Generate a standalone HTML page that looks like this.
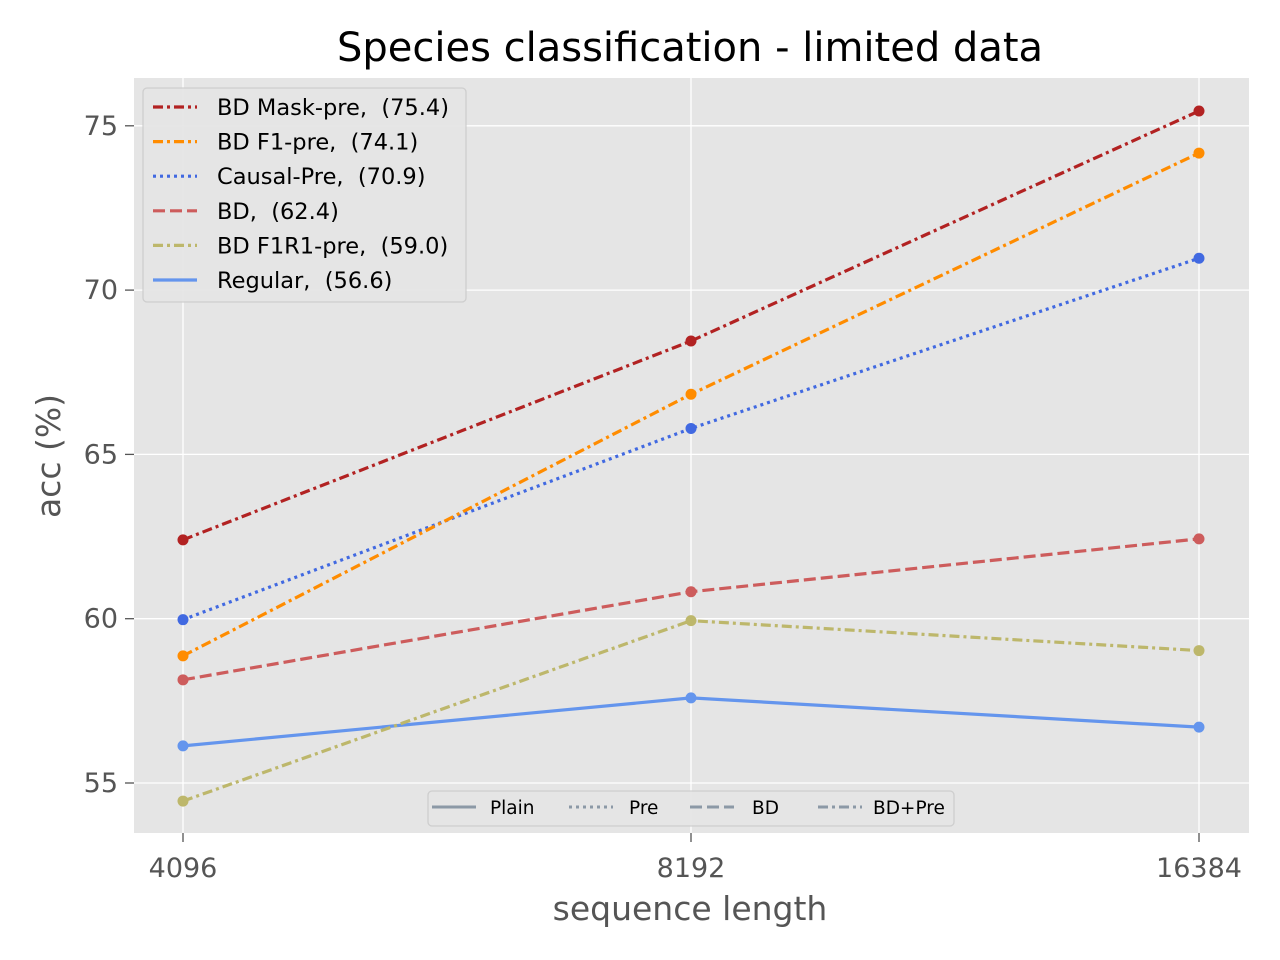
<!DOCTYPE html>
<html><head><meta charset="utf-8"><style>
body{margin:0;background:#fff;font-family:"DejaVu Sans","Liberation Sans",sans-serif;}
svg{display:block}
text{white-space:pre}
</style></head><body>
<svg id="chart" width="1280" height="960" xmlns="http://www.w3.org/2000/svg">
<rect x="134" y="78" width="1115" height="755" fill="#e5e5e5"/>
<g id="grid"></g><g id="series"></g>
<text x="690" y="61" text-anchor="middle" font-size="40" fill="#000">Species classification - limited data</text>
<text x="690" y="920" text-anchor="middle" font-size="33" fill="#555">sequence length</text>
<text transform="translate(60,456) rotate(-90)" text-anchor="middle" font-size="33" fill="#555">acc (%)</text>
<g id="legend"></g><g id="legend2"></g>
</svg>
<script>
const categories=["4096","8192","16384"];
const yTicks=[55,60,65,70,75];
const names=["BD Mask-pre,  (75.4)","BD F1-pre,  (74.1)","Causal-Pre,  (70.9)","BD,  (62.4)","BD F1R1-pre,  (59.0)","Regular,  (56.6)"];
const sMask=[62.40,68.45,75.45];
const sF1=[58.87,66.83,74.17];
const sCausal=[59.97,65.79,70.97];
const sBD=[58.14,60.82,62.43];
const sF1R1=[54.45,59.94,59.03];
const sRegular=[56.13,57.59,56.70];
const series=[sMask,sF1,sCausal,sBD,sF1R1,sRegular];
const colors=["#b22222","#ff8c00","#4169e1","#cd5c5c","#bdb76b","#6495ed"];
const dashes=["10,4,3,4","10,4,3,4","3,4","12,5","10,4,3,4",""];
const NS="http://www.w3.org/2000/svg";
const x=i=>183+i*508;
const y=v=>783-(v-55)*32.86;
function mk(t,a,p){const e=document.createElementNS(NS,t);for(const k in a)e.setAttribute(k,a[k]);(p||document.getElementById('chart')).appendChild(e);return e;}
const grid=document.getElementById('grid');
categories.forEach((c,i)=>{
 const l=mk('line',{x1:x(i),x2:x(i),y1:78,y2:833,stroke:'#fff','stroke-width':1.3},grid);
 
 
 mk('line',{x1:x(i),x2:x(i),y1:833,y2:842,stroke:'#555','stroke-width':1.3},grid);
 const t=mk('text',{x:x(i),y:877,'text-anchor':'middle','font-size':27,fill:'#555'},grid);t.textContent=c;
 
 
});
yTicks.forEach(v=>{
 const l=mk('line',{x1:134,x2:1249,y1:y(v),y2:y(v),stroke:'#fff','stroke-width':1.3},grid);
 
 
 mk('line',{x1:125,x2:134,y1:y(v),y2:y(v),stroke:'#555','stroke-width':1.3},grid);
 const t=mk('text',{x:118,y:y(v)+9,'text-anchor':'end','font-size':27,fill:'#555'},grid);t.textContent=v;
 
 
});
const sg=document.getElementById('series');
series.slice().reverse().forEach((s,ri)=>{
 const k=series.length-1-ri;
 const p=mk('polyline',{points:s.map((v,i)=>x(i)+','+y(v)).join(' '),fill:'none',stroke:colors[k],'stroke-width':3.2,'stroke-dasharray':dashes[k]},sg);
 
 
 s.forEach((v,i)=>{const c=mk('circle',{cx:x(i),cy:y(v),r:5.5,fill:colors[k]},sg);
  
  });
});
const lg=document.getElementById('legend');
const lb=mk('rect',{x:143,y:88,width:323,height:214,rx:4,fill:'#e5e5e5',stroke:'#ccc','stroke-width':1.3,opacity:0.9},lg);


names.forEach((n,k)=>{
 const yy=107+k*34.6;
 mk('line',{x1:153,x2:197,y1:yy,y2:yy,stroke:colors[k],'stroke-width':3.2,'stroke-dasharray':dashes[k]},lg);
 const t=mk('text',{x:217,y:yy+8,'font-size':22.5,fill:'#000'},lg);t.textContent=n;
 
 
});
const lg2=document.getElementById('legend2');
const b2=mk('rect',{x:428,y:791,width:526,height:35,rx:4,fill:'#e5e5e5',stroke:'#ccc','stroke-width':1.3,opacity:0.9},lg2);


const styleNames=["Plain","Pre","BD","BD+Pre"];
const styleDash=["","3,4","12,5","10,4,3,4"];
const sx=[432,569,690,818],tx=[490,629,752,873];
styleNames.forEach((n,i)=>{
 mk('line',{x1:sx[i],x2:sx[i]+44,y1:807,y2:807,stroke:'#8c99a6','stroke-width':3,'stroke-dasharray':styleDash[i]},lg2);
 const t=mk('text',{x:tx[i],y:814,'font-size':18.5,fill:'#000'},lg2);t.textContent=n;
 
 
});
</script>
</body></html>
